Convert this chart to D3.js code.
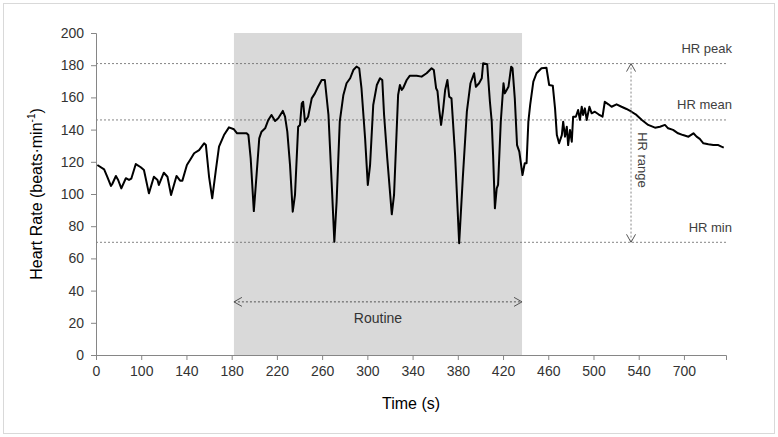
<!DOCTYPE html>
<html lang="en">
<head>
  <meta charset="UTF-8">
  <title>Heart rate during routine</title>
  <script src="https://d3js.org/d3.v7.min.js"></script>
  <style>
    body { margin: 0; background: #fff; }
    svg { display: block; font-family: "Liberation Sans", Arial, sans-serif; }
  </style>
</head>
<body>
  <svg width="778" height="437"></svg>
  <script>
    // x axis is a category axis: 14 evenly spaced slots with these labels
    const xTickLabels = ["0", "100", "140", "180", "220", "260", "300", "340", "380", "420", "460", "500", "540", "700"];
    const yTicks = [0, 20, 40, 60, 80, 100, 120, 140, 160, 180, 200];

    // heart rate trace, x in axis slot units
    const hrSlot = [
      0.03, 0.18, 0.25, 0.33, 0.36, 0.44, 0.49, 0.56, 0.66, 0.73, 0.78, 0.88, 0.99, 1.06, 1.17, 1.28, 1.36, 1.39, 1.50, 1.58,
      1.66, 1.78, 1.86, 1.91, 2.01, 2.09, 2.17, 2.28, 2.39, 2.43, 2.50, 2.57, 2.65, 2.72, 2.83, 2.94, 3.05, 3.12, 3.23, 3.33,
      3.37, 3.42, 3.49, 3.55, 3.61, 3.66, 3.74, 3.81, 3.88, 3.96, 4.03, 4.13, 4.18, 4.23, 4.29, 4.35, 4.40, 4.47, 4.51, 4.55,
      4.58, 4.62, 4.69, 4.77, 4.84, 4.91, 4.99, 5.06, 5.14, 5.21, 5.27, 5.32, 5.39, 5.47, 5.54, 5.62, 5.69, 5.76, 5.82, 5.87,
      5.95, 6.01, 6.06, 6.13, 6.21, 6.28, 6.33, 6.37, 6.44, 6.54, 6.59, 6.65, 6.68, 6.72, 6.76, 6.79, 6.87, 6.94, 7.09, 7.20,
      7.31, 7.42, 7.47, 7.52, 7.55, 7.59, 7.63, 7.67, 7.72, 7.77, 7.81, 7.86, 7.94, 8.03, 8.11, 8.20, 8.28, 8.36, 8.40, 8.47,
      8.53, 8.56, 8.65, 8.71, 8.75, 8.78, 8.82, 8.86, 8.89, 8.95, 9.01, 9.04, 9.12, 9.18, 9.21, 9.26, 9.31, 9.36, 9.43, 9.48,
      9.52, 9.56, 9.60, 9.67, 9.74, 9.85, 9.96, 10.02, 10.10, 10.15, 10.19, 10.24, 10.30, 10.33, 10.37, 10.41, 10.44, 10.48, 10.52, 10.55,
      10.61, 10.66, 10.70, 10.74, 10.77, 10.81, 10.85, 10.91, 10.96, 11.03, 11.11, 11.20, 11.25, 11.33, 11.40, 11.51, 11.62, 11.73, 11.84, 11.95,
      12.07, 12.21, 12.36, 12.47, 12.58, 12.65, 12.76, 12.87, 12.98, 13.10, 13.21, 13.28, 13.35, 13.43, 13.54, 13.65, 13.76, 13.83, 13.88
    ];
    const hrValue = [
      118, 115.3, 110.7, 105, 106.2, 111.2, 108.7, 103.5, 109.8, 108.7, 109.5, 118.6, 116.6, 114.9, 100.4, 110.7, 108.7, 105.6, 113.2, 110.7,
      99.4, 111.2, 108.3, 108.3, 118, 121.6, 125.3, 127.3, 131.5, 130.4, 110.7, 97.3, 114.9, 129.4, 136.6, 141.4, 140.2, 137.7, 137.7, 137.7,
      136.6, 122.2, 89.4, 111.8, 134.6, 138.7, 140.8, 146, 149.1, 145.3, 147, 151.6, 148, 138.7, 118, 89, 99.4, 141.8, 142.9, 156.3,
      157.3, 144.9, 148, 159.4, 162.5, 166.6, 170.8, 170.8, 149.1, 107.6, 70.4, 95.2, 144.9, 161.5, 168.8, 171.9, 177, 179.1, 178.1, 165.7,
      134.6, 105.6, 118, 155.3, 167.7, 171.9, 170.8, 149.1, 122.2, 87.4, 99.4, 140.8, 161.5, 167.7, 164.6, 165.7, 170.8, 173.5, 173.5, 172.9,
      175, 178.1, 177, 165.7, 164, 152.2, 142.9, 151.1, 164.6, 170.8, 160.4, 159.4, 124.2, 69.4, 109.8, 151.1, 168.8, 175, 166.6, 168.8,
      171.9, 181.2, 180.6, 157.3, 144.9, 124.2, 91.1, 103.5, 105.6, 144.9, 168.8, 162.5, 166.6, 179.1, 178.1, 159.4, 130.4, 126.3, 111.8, 119.1,
      119.1, 144.9, 155.3, 169.8, 175, 178.1, 178.4, 167.7, 167.3, 153.2, 136.6, 131.5, 136.6, 144.9, 135.6, 141.8, 130.4, 139.8, 132.5, 148,
      148, 152.2, 146, 154.2, 149.1, 153.2, 146, 154.2, 150.1, 151.1, 149.5, 148, 157.3, 155.7, 154.2, 155.7, 154.2, 152.8, 151.1, 149.1,
      146, 142.9, 141.2, 141.8, 142.9, 140.8, 139.8, 137.7, 136.6, 135.6, 137.7, 135.6, 134.2, 131.5, 130.9, 130.4, 130.4, 129.4, 128.8
    ];

    const hrPeak = 181;
    const hrMean = 146;
    const hrMin = 70;
    const routineSpan = [3.05, 9.42];   // slots
    const rangeArrowSlot = 11.83;
    const routineArrowHr = 33;

    const svg = d3.select("svg");
    const width = +svg.attr("width");
    const height = +svg.attr("height");
    const margin = {top: 33, right: 52, bottom: 82, left: 96};
    const innerWidth = width - margin.left - margin.right;
    const innerHeight = height - margin.top - margin.bottom;

    // chart frame
    svg.append("rect")
      .attr("x", 3.5).attr("y", 3.5)
      .attr("width", width - 7).attr("height", height - 7)
      .attr("fill", "none").attr("stroke", "#d9d9d9");

    const defs = svg.append("defs");
    defs.append("marker")
      .attr("id", "open-arrow")
      .attr("viewBox", "-10 -6 12 12")
      .attr("refX", 0).attr("refY", 0)
      .attr("markerWidth", 12).attr("markerHeight", 12)
      .attr("markerUnits", "userSpaceOnUse")
      .attr("orient", "auto-start-reverse")
      .append("path")
      .attr("d", "M-8,-4.5L0,0L-8,4.5")
      .attr("fill", "none")
      .attr("stroke", "#555")
      .attr("stroke-width", 1);

    const g = svg.append("g").attr("transform", `translate(${margin.left},${margin.top})`);

    const x = d3.scaleLinear().domain([0, 13.93]).range([0, innerWidth]);
    const y = d3.scaleLinear().domain([0, 200]).range([innerHeight, 0]);

    // routine shading
    g.append("rect")
      .attr("x", x(routineSpan[0]))
      .attr("y", y(200))
      .attr("width", x(routineSpan[1]) - x(routineSpan[0]))
      .attr("height", y(0) - y(200))
      .attr("fill", "#d9d9d9");

    // reference lines
    const refLines = [
      {v: hrPeak, label: "HR peak", dy: -15},
      {v: hrMean, label: "HR mean", dy: -15},
      {v: hrMin, label: "HR min", dy: -15}
    ];
    g.selectAll(".ref")
      .data(refLines)
      .enter()
      .append("line")
      .attr("class", "ref")
      .attr("x1", 0).attr("x2", innerWidth)
      .attr("y1", d => y(d.v)).attr("y2", d => y(d.v))
      .attr("stroke", "#666")
      .attr("stroke-width", 0.8)
      .attr("stroke-dasharray", "2,2");

    g.selectAll(".ref-label")
      .data(refLines)
      .enter()
      .append("text")
      .attr("class", "ref-label")
      .attr("x", innerWidth + 6)
      .attr("y", d => y(d.v) + d.dy)
      .attr("text-anchor", "end")
      .attr("dominant-baseline", "central")
      .attr("font-size", 13)
      .attr("fill", "#404040")
      .text(d => d.label);

    // axes
    const yAxis = g.append("g")
      .call(d3.axisLeft(y).tickValues(yTicks).tickSize(5).tickPadding(7));
    const xAxis = g.append("g")
      .attr("transform", `translate(0,${innerHeight})`)
      .call(d3.axisBottom(x).tickValues(d3.range(xTickLabels.length)).tickSize(5).tickPadding(6)
        .tickFormat(i => xTickLabels[i]));

    [xAxis, yAxis].forEach(ax => {
      ax.selectAll("path, line").attr("stroke", "#868686");
      ax.selectAll("text").attr("font-size", 14).attr("fill", "#333")
        .attr("font-family", "\"Liberation Sans\", Arial, sans-serif");
    });

    // heart rate trace
    const line = d3.line()
      .x(i => x(hrSlot[i]))
      .y(i => y(hrValue[i]));

    g.append("path")
      .datum(d3.range(hrSlot.length))
      .attr("d", line)
      .attr("fill", "none")
      .attr("stroke", "#000")
      .attr("stroke-width", 2)
      .attr("stroke-linejoin", "round");

    // routine arrow
    g.append("line")
      .attr("x1", x(routineSpan[0])).attr("x2", x(routineSpan[1]))
      .attr("y1", y(routineArrowHr)).attr("y2", y(routineArrowHr))
      .attr("stroke", "#555")
      .attr("stroke-dasharray", "2,2")
      .attr("marker-start", "url(#open-arrow)")
      .attr("marker-end", "url(#open-arrow)");

    g.append("text")
      .attr("x", (x(routineSpan[0]) + x(routineSpan[1])) / 2)
      .attr("y", y(routineArrowHr) + 21)
      .attr("text-anchor", "middle")
      .attr("font-size", 14)
      .attr("fill", "#333")
      .text("Routine");

    // HR range arrow
    g.append("line")
      .attr("x1", x(rangeArrowSlot)).attr("x2", x(rangeArrowSlot))
      .attr("y1", y(hrPeak)).attr("y2", y(hrMin))
      .attr("stroke", "#888")
      .attr("stroke-dasharray", "2,2")
      .attr("marker-start", "url(#open-arrow)")
      .attr("marker-end", "url(#open-arrow)");

    g.append("text")
      .attr("transform", `translate(${x(rangeArrowSlot) + 11},${y(hrMean) + 40}) rotate(90)`)
      .attr("text-anchor", "middle")
      .attr("dominant-baseline", "central")
      .attr("font-size", 13)
      .attr("fill", "#404040")
      .text("HR range");

    // axis titles
    g.append("text")
      .attr("x", innerWidth / 2)
      .attr("y", innerHeight + 54)
      .attr("text-anchor", "middle")
      .attr("font-size", 16)
      .attr("fill", "#000")
      .text("Time (s)");

    const yTitle = g.append("text")
      .attr("transform", `translate(-54,${innerHeight / 2}) rotate(-90)`)
      .attr("text-anchor", "middle")
      .attr("font-size", 16)
      .attr("fill", "#000");
    yTitle.append("tspan").text("Heart Rate (beats\u00b7min");
    yTitle.append("tspan").attr("font-size", 10).attr("dy", -7).text("-1");
    yTitle.append("tspan").attr("dy", 7).text(")");
  </script>
</body>
</html>
